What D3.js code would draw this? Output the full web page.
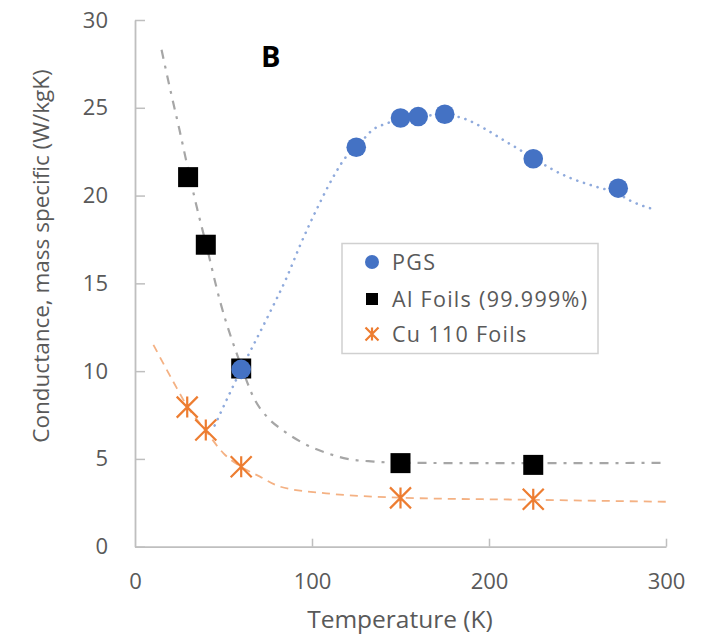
<!DOCTYPE html>
<html>
<head>
<meta charset="utf-8">
<script src="https://cdn.jsdelivr.net/npm/d3@7"></script>
<style>
  html, body { margin: 0; padding: 0; background: #ffffff; }
  svg { display: block; }
  text { font-family: "Open Sans", Lato, sans-serif; }
</style>
</head>
<body>
<div id="chart"></div>
<script>
// ---- data ----
const pgsTemp = [60, 125, 150, 160, 175, 225, 273];
const pgsCond = [10.1, 22.75, 24.42, 24.5, 24.63, 22.1, 20.42];

const alTemp = [30, 40, 60, 150, 225];
const alCond = [21.05, 17.2, 10.15, 4.76, 4.66];

const cuTemp = [29.5, 40, 60, 150, 225];
const cuCond = [7.95, 6.65, 4.55, 2.78, 2.7];

// trend lines
const pgsTrendT = [45, 60, 75, 86, 93, 104.5, 112, 120, 125, 135, 142, 150, 162, 175, 185.5, 197, 208, 217.5, 225, 234.5, 246, 259, 273, 280, 291];
const pgsTrendC = [6.9, 10.1, 13.1, 15.4, 17.1, 19.6, 21.06, 22.3, 22.75, 23.8, 24.1, 24.38, 24.55, 24.58, 24.4, 23.84, 23.17, 22.6, 22.15, 21.56, 21.0, 20.55, 20.1, 19.7, 19.28];

const alTrendT = [15, 20, 25, 30, 35, 40, 48, 60, 67, 75, 84, 95, 108, 120, 135, 150, 200, 250, 300];
const alTrendC = [28.3, 26.0, 23.8, 21.5, 19.3, 17.3, 14.0, 10.3, 8.5, 7.35, 6.6, 5.9, 5.35, 5.0, 4.85, 4.78, 4.76, 4.76, 4.78];

const cuTrendT = [10.4, 21.6, 29.5, 40, 50, 60, 70.6, 82, 108, 135, 150, 225, 300];
const cuTrendC = [11.5, 9.4, 8.0, 6.6, 5.32, 4.55, 3.99, 3.42, 3.04, 2.85, 2.79, 2.67, 2.56];

const xTicks = [0, 100, 200, 300];
const yTicks = [0, 5, 10, 15, 20, 25, 30];
const seriesNames = ["PGS", "Al Foils (99.999%)", "Cu 110 Foils"];
const panelLabel = "B";
const xTitle = "Temperature (K)";
const yTitle = "Conductance, mass specific (W/kgK)";

// ---- drawing ----
const W = 705, H = 637;
const svg = d3.select("#chart").append("svg").attr("width", W).attr("height", H);
svg.append("rect").attr("width", W).attr("height", H).attr("fill", "#ffffff");

const x = d3.scaleLinear().domain([0, 300]).range([135, 666]);
const y = d3.scaleLinear().domain([0, 30]).range([546.7, 20]);

const axisColor = "#bfbfbf", textColor = "#595959";
const fontFam = "'Open Sans', Lato, sans-serif";

const gx = svg.append("g").attr("transform", `translate(0,${y(0)})`)
  .call(d3.axisBottom(x).tickValues(xTicks).tickSizeInner(-8).tickSizeOuter(0).tickPadding(27));
const gy = svg.append("g").attr("transform", `translate(${x(0)},0)`)
  .call(d3.axisLeft(y).tickValues(yTicks).tickSizeInner(-10).tickSizeOuter(0).tickPadding(27));
[gx, gy].forEach(g => {
  g.select(".domain").attr("stroke", axisColor).attr("stroke-width", 1.8);
  g.selectAll(".tick line").attr("stroke", axisColor).attr("stroke-width", 1.5);
  g.selectAll(".tick text").attr("fill", textColor).style("font-size", "22px")
    .style("font-family", fontFam);
});
gx.selectAll(".tick").filter(d => d === 0).select("line").remove();

// titles
svg.append("text").attr("x", 400).attr("y", 628).attr("text-anchor", "middle")
  .attr("fill", textColor).style("font-size", "24.5px").text(xTitle);
svg.append("text").attr("transform", "translate(49,256) rotate(-90)").attr("text-anchor", "middle")
  .attr("fill", textColor).style("font-size", "22.5px").text(yTitle);
svg.append("text").attr("x", 261).attr("y", 67).attr("fill", "#000")
  .style("font-size", "29px").style("font-weight", "bold").text(panelLabel);

// trend lines
const line = d3.line().x(d => x(d[0])).y(d => y(d[1])).curve(d3.curveMonotoneX);
const zip = (a, b) => a.map((v, i) => [v, b[i]]);

svg.append("path").datum(zip(alTrendT, alTrendC)).attr("d", line)
  .attr("fill", "none").attr("stroke", "#a6a6a6").attr("stroke-width", 2.2)
  .attr("stroke-dasharray", "9,7,3,7");
svg.append("path").datum(zip(cuTrendT, cuTrendC)).attr("d", line)
  .attr("fill", "none").attr("stroke", "#f4b183").attr("stroke-width", 1.8)
  .attr("stroke-dasharray", "8,6");
svg.append("path").datum(zip(pgsTrendT, pgsTrendC)).attr("d", line)
  .attr("fill", "none").attr("stroke", "#8faadc").attr("stroke-width", 2.6)
  .attr("stroke-linecap", "round").attr("stroke-dasharray", "0.1,7");

// markers
const blue = "#4472c4", orange = "#ed7d31";
function star(g, cx, cy, r) {
  const path = d3.path();
  path.moveTo(cx, cy - r); path.lineTo(cx, cy + r);
  path.moveTo(cx - r, cy - r); path.lineTo(cx + r, cy + r);
  path.moveTo(cx + r, cy - r); path.lineTo(cx - r, cy + r);
  g.append("path").attr("d", path.toString()).attr("stroke", orange)
    .attr("stroke-width", 2.2).attr("fill", "none");
}

const alData = zip(alTemp, alCond);
svg.append("g").selectAll("rect").data(alData).join("rect")
  .attr("x", d => x(d[0]) - 10).attr("y", d => y(d[1]) - 10)
  .attr("width", 20).attr("height", 20).attr("fill", "#000");

const cuG = svg.append("g");
zip(cuTemp, cuCond).forEach(d => star(cuG, x(d[0]), y(d[1]), 10.5));

svg.append("g").selectAll("circle").data(zip(pgsTemp, pgsCond)).join("circle")
  .attr("cx", d => x(d[0])).attr("cy", d => y(d[1])).attr("r", 9.8).attr("fill", blue);

// legend
const lg = svg.append("g");
lg.append("rect").attr("x", 342).attr("y", 243.5).attr("width", 256).attr("height", 110)
  .attr("fill", "#ffffff").attr("stroke", "#d0d0d0").attr("stroke-width", 1.5);
const ly = [262, 299, 334];
lg.append("circle").attr("cx", 372).attr("cy", ly[0]).attr("r", 7).attr("fill", blue);
lg.append("rect").attr("x", 366).attr("y", ly[1] - 6).attr("width", 12).attr("height", 12).attr("fill", "#000");
star(lg, 372, ly[2], 6.5);
seriesNames.forEach((n, i) => {
  lg.append("text").attr("x", 392).attr("y", ly[i]).attr("dy", "0.36em")
    .attr("fill", textColor).style("font-size", "21.5px").style("letter-spacing", "1.3px").text(n);
});
</script>
</body>
</html>
